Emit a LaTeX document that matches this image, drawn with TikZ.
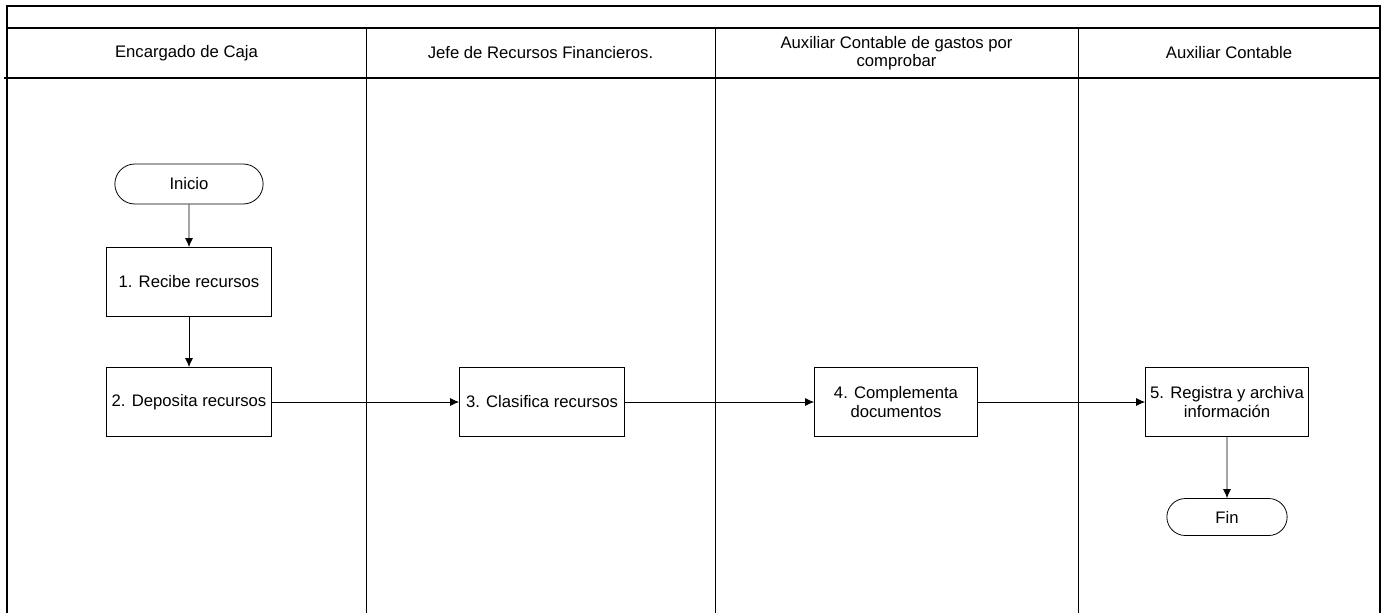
\documentclass[tikz,border=0pt]{standalone}
\usepackage{fontspec}
\setmainfont{Liberation Sans}
\usetikzlibrary{shapes.misc,arrows.meta}
\tikzstyle{terminal} = [draw, rounded rectangle, minimum width=3.2cm, minimum height=0.8cm]
\tikzstyle{block} = [draw, rectangle, minimum width=3.3cm, minimum height=1.38cm, align=center, inner sep=1pt]
\tikzstyle{lanetitle} = [align=center]
\tikzstyle{frame} = [line width=1.1pt]
\tikzstyle{divider} = [line width=0.4pt]

\begin{document}
\begin{tikzpicture}[auto, node distance=2cm, >={Latex[length=1.8mm,width=1.6mm]}, font=\fontsize{9.5}{10.5}\selectfont, line width=0.45pt]
		\useasboundingbox (0,0) rectangle (27.72,-12.26);
		% marco y carriles
		\draw [frame] (0.14,-12.26) -- (0.14,-0.12) -- (27.6,-0.12) -- (27.6,-12.26);
		\draw [frame] (0.14,-0.56) -- (27.6,-0.56);
		\draw [frame] (0.08,-1.56) -- (27.6,-1.56);
		\draw [divider] (7.32,-0.56) -- (7.32,-12.26);
		\draw [divider] (14.3,-0.56) -- (14.3,-12.26);
		\draw [divider] (21.56,-0.56) -- (21.56,-12.26);

		\node [lanetitle] (caja) at (3.73,-1.06) {Encargado de Caja};
		\node [lanetitle] (jefe) at (10.81,-1.06) {Jefe de Recursos Financieros.};
		\node [lanetitle] (gastos) at (17.93,-1.06) {Auxiliar Contable de gastos por\\comprobar};
		\node [lanetitle] (auxiliar) at (24.58,-1.06) {Auxiliar Contable};

		% actividades
		\node [terminal] (inicio) at (3.78,-3.68) {Inicio};
		\node [block, below of=inicio, node distance=1.96cm] (recibe) {1. Recibe recursos};
		\node [block, below of=recibe, node distance=2.4cm] (deposita) {2. Deposita recursos};
		\node [block, right of=deposita, node distance=7.06cm] (clasifica) {3. Clasifica recursos};
		\node [block, right of=clasifica, node distance=7.08cm, minimum width=3.26cm] (complementa) {4. Complementa\\documentos};
		\node [block, right of=complementa, node distance=6.62cm, minimum width=3.26cm] (registra) {5. Registra y archiva\\informaci\'on};
		\node [terminal, below of=registra, node distance=2.3cm, minimum width=2.64cm, minimum height=0.74cm] (fin) {Fin};

		\draw [->] (inicio) -- (recibe);
		\draw [->] (recibe) -- (deposita);
		\draw [->] (deposita) -- (clasifica);
		\draw [->] (clasifica) -- (complementa);
		\draw [->] (complementa) -- (registra);
		\draw [->] (registra) -- (fin);
	\end{tikzpicture}
\end{document}
